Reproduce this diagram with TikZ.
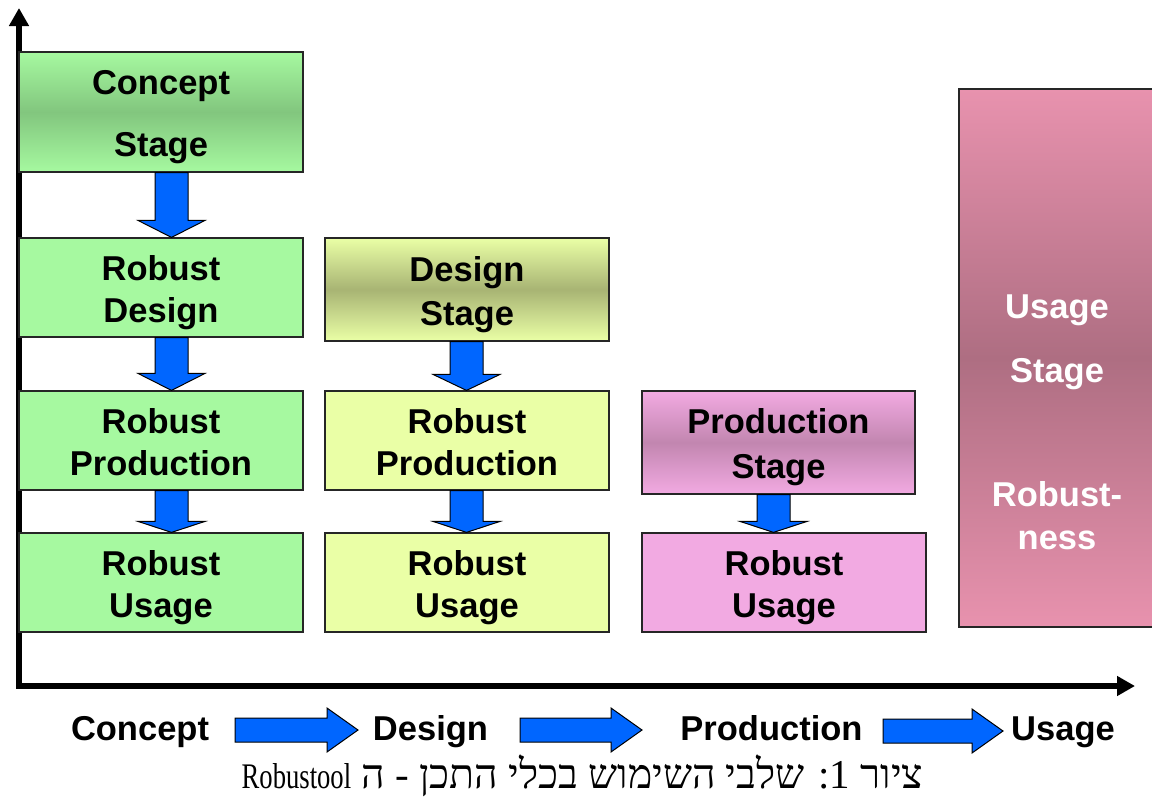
\documentclass[tikz,border=0pt]{standalone}
\usepackage{fontspec}
\usetikzlibrary{calc,arrows.meta}
\newfontfamily\labelfont{Liberation Sans}
\newfontfamily\hebfont[Script=Hebrew]{Liberation Serif}
\newfontfamily\capfont[FakeStretch=0.74]{Liberation Serif}
\TeXXeTstate=1

\definecolor{boxgreen}{RGB}{166,249,160}
\definecolor{boxgreendk}{RGB}{130,198,126}
\definecolor{boxyellow}{RGB}{234,255,166}
\definecolor{boxyellowdk}{RGB}{168,180,116}
\definecolor{boxpink}{RGB}{242,170,226}
\definecolor{boxpinkdk}{RGB}{194,134,176}
\definecolor{usepink}{RGB}{232,146,174}
\definecolor{usepinkdk}{RGB}{174,110,130}
\definecolor{flowblue}{RGB}{0,102,255}

% tall strut for the first line of a box, lowering the text block a little
\newcommand\firstline{\rule{0pt}{35pt}}

% vertical block arrow: [head length]{upper node}{lower node}{x coordinate}
\newcommand\blkdown[4][17]{%
  \path (#2.south -| #4) coordinate (bt) (#3.north -| #4) coordinate (be);
  \filldraw[blockarrow] ($(bt)+(-16.5,0)$) -- ($(be)+(-16.5,-#1)$) -- ($(be)+(-33.5,-#1)$)
    -- (be) -- ($(be)+(33.5,-#1)$) -- ($(be)+(16.5,-#1)$) -- ($(bt)+(16.5,0)$) -- cycle;}
% horizontal block arrow: {start coordinate}{tip coordinate}
\newcommand\blkright[2]{%
  \filldraw[blockarrow] ($(#1)+(0,-12)$) -- ($(#2)+(-31,-12)$) -- ($(#2)+(-31,-22)$)
    -- (#2) -- ($(#2)+(-31,22)$) -- ($(#2)+(-31,12)$) -- ($(#1)+(0,12)$) -- cycle;}

\begin{document}
\begin{tikzpicture}[x=1pt,y=-1pt,
  txt/.style={font=\labelfont\bfseries\fontsize{34.5}{41.4}\selectfont, align=center},
  stagebox/.style={txt, draw=black!85, line width=1.2pt, minimum width=284pt,
    minimum height=99pt, inner sep=0pt},
  greenbox/.style={stagebox, fill=boxgreen},
  yellowbox/.style={stagebox, fill=boxyellow},
  pinkbox/.style={stagebox, fill=boxpink},
  greenshade/.style={stagebox, top color=boxgreen, bottom color=boxgreen, middle color=boxgreendk},
  yellowshade/.style={stagebox, top color=boxyellow, bottom color=boxyellow, middle color=boxyellowdk},
  pinkshade/.style={stagebox, top color=boxpink, bottom color=boxpink, middle color=boxpinkdk},
  useshade/.style={stagebox, top color=usepink, bottom color=usepink, middle color=usepinkdk},
  blockarrow/.style={fill=flowblue, draw=black, line width=1pt, line join=miter},
  axisline/.style={line width=6pt, line join=miter,
    {Triangle[width=19pt,length=18pt]}-{Triangle[width=19pt,length=18pt]}},
  steplabel/.style={txt, anchor=base, inner sep=0pt},
  caption/.style={font=\hebfont\fontsize{41}{46}\selectfont, anchor=base, inner sep=0pt}]

\useasboundingbox (0,0) rectangle (1152,796);
\fill[white] (0,0) rectangle (1152,796);

% axes
\coordinate (ytop) at (19,8);
\coordinate (origin) at (19,686);
\coordinate (xend) at (1135,686);
\draw[axisline] (ytop) -- (origin) -- (xend);

% concept column
\node[greenshade, minimum height=120pt] (concept) at (161,112) {\firstline Concept\\[20.6pt]Stage};
\node[greenbox] (rd1) at (161,287.5) {\firstline Robust\\Design};
\node[greenbox] (rp1) at (161,440.5) {\rule{0pt}{28pt}Robust\\Production};
\node[greenbox] (ru1) at (161,582.5) {\firstline Robust\\Usage};

% design column
\node[yellowshade, minimum height=103pt] (design) at (467,289.5) {\firstline Design\\[2.6pt]Stage};
\node[yellowbox] (rp2) at (467,440.5) {\rule{0pt}{28pt}Robust\\Production};
\node[yellowbox] (ru2) at (467,582.5) {\firstline Robust\\Usage};

% production column
\node[pinkshade, minimum width=273pt, minimum height=103pt] (prod) at (778.5,442.5) {\firstline Production\\[3.6pt]Stage};
\node[pinkbox] (ru3) at (784,582.5) {\firstline Robust\\Usage};

% usage column
\begin{scope}
  \clip (0,0) rectangle (1152,796);
  \node[useshade, minimum width=196pt, minimum height=538pt] (usage) at (1057,358) {};
\end{scope}
\node[txt, text=white] (usagetxt) at (1057,422) {Usage\\[22.6pt]Stage\\[82.6pt]Robust-\\[1.6pt]ness};

% flow arrows between the boxes
\coordinate (c1) at (171.5,0);
\coordinate (c2) at (466.5,0);
\coordinate (c3) at (773.5,0);
\blkdown{concept}{rd1}{c1}
\blkdown{rd1}{rp1}{c1}
\blkdown[11]{rp1}{ru1}{c1}
\blkdown[16]{design}{rp2}{c2}
\blkdown[11]{rp2}{ru2}{c2}
\blkdown[11]{prod}{ru3}{c3}

% stage sequence along the time axis
\node[steplabel] (lc) at (140,740) {Concept};
\node[steplabel] (ld) at (430.5,740) {Design};
\node[steplabel] (lp) at (771.5,740) {Production};
\node[steplabel] (lu) at (1063,740) {Usage};
\coordinate (h1s) at (235,730);
\coordinate (h1e) at (358,730);
\coordinate (h2s) at (520,730);
\coordinate (h2e) at (642,730);
\coordinate (h3s) at (883,731);
\coordinate (h3e) at (1003,731);
\blkright{h1s}{h1e}
\blkright{h2s}{h2e}
\blkright{h3s}{h3e}

% caption
\node[caption] (cap) at (582.5,788) {\beginR ציור 1: שלבי השימוש בכלי התכן - ה \beginL{\capfont\fontsize{36}{40}\selectfont Robustool}\endL\endR};
\end{tikzpicture}
\end{document}
